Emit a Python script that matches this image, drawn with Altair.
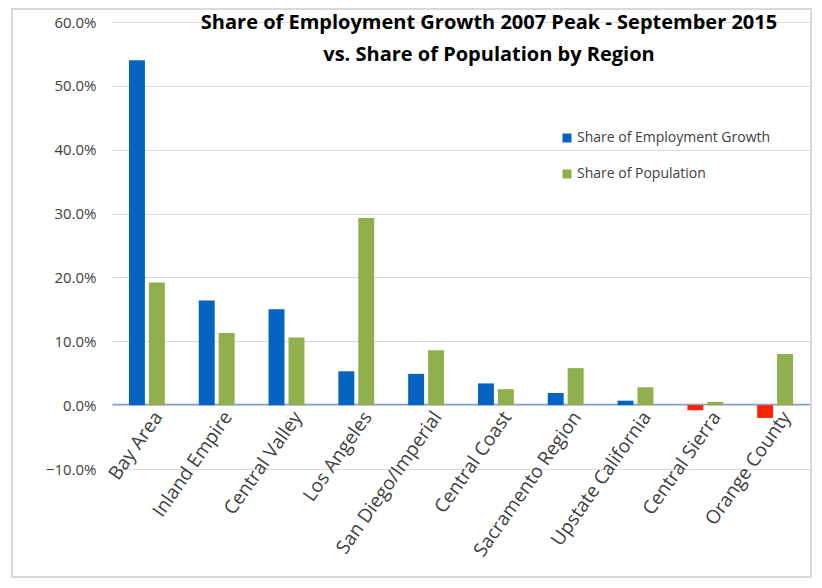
import altair as alt
import pandas as pd

regions = ["Bay Area", "Inland Empire", "Central Valley", "Los Angeles",
           "San Diego/Imperial", "Central Coast", "Sacramento Region",
           "Upstate California", "Central Sierra", "Orange County"]
emp_share = [0.540, 0.164, 0.150, 0.053, 0.049, 0.034, 0.019, 0.007, -0.008, -0.020]
pop_share = [0.192, 0.113, 0.106, 0.293, 0.086, 0.025, 0.058, 0.028, 0.005, 0.080]
series_names = ["Share of Employment Growth", "Share of Population"]
series_colors = ["#0563C1", "#8FB04C"]
neg_color = "#FF2200"
y_ticks = [-0.1, 0.0, 0.1, 0.2, 0.3, 0.4, 0.5, 0.6]

rows = []
for r, e, p in zip(regions, emp_share, pop_share):
    rows.append({"region": r, "series": series_names[0], "value": e})
    rows.append({"region": r, "series": series_names[1], "value": p})
df = pd.DataFrame(rows)

FONT = "Open Sans"

bars = alt.Chart(df).mark_bar().encode(
    x=alt.X("region:N", sort=regions, title=None,
            scale=alt.Scale(paddingInner=0.486, paddingOuter=0.243),
            axis=alt.Axis(labelAngle=-55, labelAlign="right", labelBaseline="top",
                          labelFontSize=19, labelFont=FONT, labelColor="#404040",
                          ticks=False, domain=True, domainColor="#7FA2D6",
                          domainWidth=1.5, offset=-65, labelPadding=4, grid=False,
                          labelOffset=4, labelOverlap=False, labelLimit=0)),
    xOffset=alt.XOffset("series:N", sort=series_names,
                        scale=alt.Scale(paddingInner=0.2, paddingOuter=0)),
    y=alt.Y("value:Q", title=None,
            scale=alt.Scale(domain=[-0.1, 0.6], nice=False, zero=False),
            axis=alt.Axis(values=y_ticks, format=".1%", labelFontSize=15,
                          labelFont=FONT, labelColor="#404040", ticks=False,
                          domain=False, grid=True, gridColor="#D9D9D9",
                          labelPadding=16)),
    color=alt.condition(
        "datum.value < 0",
        alt.value(neg_color),
        alt.Color("series:N",
                  scale=alt.Scale(domain=series_names, range=series_colors),
                  legend=alt.Legend(title=None, orient="none", legendX=448, legendY=109,
                                    symbolType="square", symbolSize=81,
                                    labelFontSize=14, labelFont=FONT,
                                    labelColor="#404040", rowPadding=22,
                                    labelOffset=3, padding=0, labelLimit=0)),
    ),
)

border = alt.Chart(alt.Data(values=[{}])).mark_rect(
    fill=None, stroke="#D9D9D9", strokeWidth=2
).encode(
    x=alt.value(-100), x2=alt.value(699), y=alt.value(-13), y2=alt.value(555)
)

chart = alt.layer(bars, border).properties(
    width=698, height=447,
    autosize=alt.AutoSizeParams(type="none"),
    padding={"left": 104, "top": 14, "right": 3, "bottom": 110},
    title=alt.TitleParams(
        text=["Share of Employment Growth 2007 Peak - September 2015",
              "vs. Share of Population by Region"],
        font=FONT, fontSize=20, fontWeight="bold", color="#000000",
        anchor="middle", dx=28, lineHeight=32, baseline="top", offset=-57,
    ),
).configure_view(stroke=None)

chart.save("out.html", embed_options={"renderer": "svg", "actions": False})
